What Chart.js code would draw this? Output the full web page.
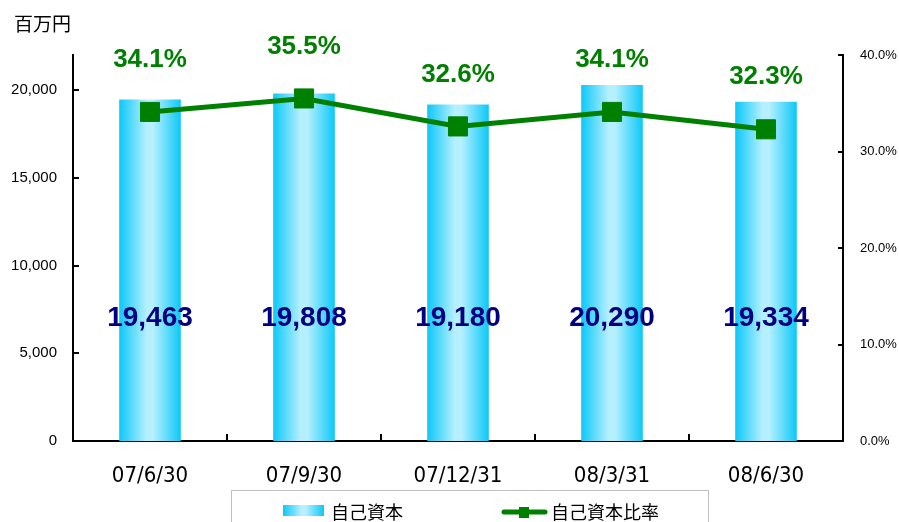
<!DOCTYPE html>
<html>
<head>
<meta charset="utf-8">
<script src="https://cdn.jsdelivr.net/npm/chart.js@4"></script>
<style>
html,body{margin:0;padding:0;background:#fff;}
canvas{display:block;}
</style>
</head>
<body>
<canvas id="c" width="899" height="522"></canvas>
<script>
const categories = ['07/6/30', '07/9/30', '07/12/31', '08/3/31', '08/6/30'];
const equity = [19463, 19808, 19180, 20290, 19334];
const equityRatio = [34.1, 35.5, 32.6, 34.1, 32.3];
const seriesNames = ['自己資本', '自己資本比率'];
const unitLabel = '百万円';
const leftTicks = [0, 5000, 10000, 15000, 20000];
const rightTicks = [0, 10, 20, 30, 40];

const fmtInt = v => v.toLocaleString('en-US');
const fmtPct = v => v.toFixed(1) + '%';

function barGradient(ctx, x0, x1) {
  const g = ctx.createLinearGradient(x0, 0, x1, 0);
  g.addColorStop(0, '#0cc8f8');
  g.addColorStop(0.45, '#b6f0ff');
  g.addColorStop(0.55, '#b6f0ff');
  g.addColorStop(1, '#0cc8f8');
  return g;
}

const decor = {
  id: 'decor',
  afterDatasetsDraw(chart) {
    const ctx = chart.ctx;
    const ys = chart.scales.y;
    const barMeta = chart.getDatasetMeta(0);
    ctx.save();
    ctx.font = 'bold 28px "Liberation Sans", Arial, sans-serif';
    ctx.fillStyle = '#000080';
    ctx.textAlign = 'center';
    ctx.textBaseline = 'middle';
    barMeta.data.forEach((el, i) => {
      ctx.fillText(fmtInt(equity[i]), el.x, ys.getPixelForValue(7000));
    });
    const lineMeta = chart.getDatasetMeta(1);
    ctx.font = 'bold 26px "Liberation Sans", Arial, sans-serif';
    ctx.fillStyle = '#008000';
    lineMeta.data.forEach((el, i) => {
      ctx.fillText(fmtPct(equityRatio[i]), el.x, el.y - 52);
    });
    ctx.restore();
  },
  afterDraw(chart) {
    const ctx = chart.ctx;
    const {x, y, y1} = chart.scales;
    const area = chart.chartArea;
    ctx.save();
    ctx.strokeStyle = '#000';
    ctx.lineWidth = 2;
    y.ticks.forEach(t => {
      const py = Math.round(y.getPixelForValue(t.value));
      ctx.beginPath(); ctx.moveTo(area.left, py); ctx.lineTo(area.left + 6, py); ctx.stroke();
    });
    y1.ticks.forEach(t => {
      const py = Math.round(y1.getPixelForValue(t.value));
      ctx.beginPath(); ctx.moveTo(area.right, py); ctx.lineTo(area.right - 5, py); ctx.stroke();
    });
    for (let i = 0; i < categories.length - 1; i++) {
      const px = Math.round((x.getPixelForValue(i) + x.getPixelForValue(i + 1)) / 2);
      ctx.beginPath(); ctx.moveTo(px, area.bottom); ctx.lineTo(px, area.bottom - 7); ctx.stroke();
    }
    ctx.font = '19px "Noto Sans CJK JP", sans-serif';
    ctx.fillStyle = '#000';
    ctx.textAlign = 'left';
    ctx.textBaseline = 'middle';
    ctx.fillText(unitLabel, 14, 24);
    ctx.lineWidth = 1;
    ctx.strokeStyle = '#c0c0c0';
    ctx.strokeRect(231.5, 490.5, 477, 40);
    ctx.fillStyle = barGradient(ctx, 283, 324);
    ctx.fillRect(283, 505, 41, 11);
    ctx.font = '18px "Noto Sans CJK JP", sans-serif';
    ctx.fillStyle = '#000';
    ctx.fillText(seriesNames[0], 331, 512);
    ctx.strokeStyle = '#008000';
    ctx.lineWidth = 5;
    ctx.lineCap = 'round';
    ctx.beginPath(); ctx.moveTo(504, 512); ctx.lineTo(545, 512); ctx.stroke();
    ctx.fillStyle = '#008000';
    ctx.fillRect(519, 507, 10, 11);
    ctx.fillStyle = '#000';
    ctx.fillText(seriesNames[1], 551, 512);
    ctx.restore();
  }
};

new Chart(document.getElementById('c'), {
  data: {
    labels: categories,
    datasets: [
      {
        type: 'bar',
        label: seriesNames[0],
        data: equity,
        yAxisID: 'y',
        order: 1,
        categoryPercentage: 1,
        barPercentage: 0.4,
        backgroundColor: (c) => {
          const chart = c.chart;
          const xs = chart.scales.x;
          if (!xs || !chart.chartArea) return '#0cc8f8';
          const cx = xs.getPixelForValue(c.dataIndex);
          const w = (chart.chartArea.right - chart.chartArea.left) / categories.length * 0.4;
          return barGradient(chart.ctx, cx - w / 2, cx + w / 2);
        },
        borderWidth: 0
      },
      {
        type: 'line',
        label: seriesNames[1],
        data: equityRatio,
        yAxisID: 'y1',
        order: 0,
        borderColor: '#008000',
        borderWidth: 5,
        backgroundColor: '#008000',
        pointStyle: 'rect',
        pointRadius: 13.5,
        pointBorderWidth: 1,
        pointBorderColor: '#008000',
        pointBackgroundColor: '#008000',
        tension: 0
      }
    ]
  },
  options: {
    responsive: false,
    animation: false,
    layout: {padding: {top: 55, left: 0, right: 0, bottom: 0}},
    plugins: {legend: {display: false}, tooltip: {enabled: false}},
    scales: {
      x: {
        offset: true,
        grid: {display: false, drawTicks: false, tickLength: 0},
        border: {display: true, color: '#000', width: 2},
        ticks: {
          padding: 22,
          color: '#000',
          font: {family: '"DejaVu Sans Condensed", "DejaVu Sans", sans-serif', size: 22},
          maxRotation: 0
        },
        afterFit: s => { s.height = 81; }
      },
      y: {
        position: 'left',
        min: 0,
        max: 22000,
        grid: {display: false, drawTicks: false, tickLength: 0},
        border: {display: true, color: '#000', width: 2},
        ticks: {
          padding: 16,
          color: '#000',
          font: {family: '"Liberation Sans", Arial, sans-serif', size: 15},
          callback: v => fmtInt(v)
        },
        afterBuildTicks: s => { s.ticks = leftTicks.map(v => ({value: v})); },
        afterFit: s => { s.width = 73; }
      },
      y1: {
        position: 'right',
        min: 0,
        max: 40,
        grid: {display: false, drawTicks: false, tickLength: 0},
        border: {display: true, color: '#000', width: 2},
        ticks: {
          padding: 17,
          color: '#000',
          font: {family: '"Liberation Sans", Arial, sans-serif', size: 13},
          callback: v => fmtPct(v)
        },
        afterBuildTicks: s => { s.ticks = rightTicks.map(v => ({value: v})); },
        afterFit: s => { s.width = 56; }
      }
    }
  },
  plugins: [decor]
});
</script>
</body>
</html>
